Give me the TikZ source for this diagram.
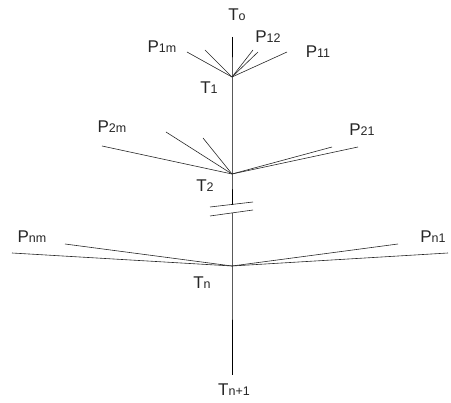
\documentclass[tikz,border=0pt]{standalone}
\usepackage{fontspec}
\setmainfont{Liberation Sans}
\usetikzlibrary{positioning}
\tikzstyle{stem} = [line width=0.8pt, black]
\tikzstyle{branch} = [line width=0.6pt, black!85]
\tikzstyle{lbl} = [inner sep=0pt, font=\fontsize{17}{17}\selectfont, text=black!85]
\newcommand{\sub}[1]{{\fontsize{12.5}{12.5}\selectfont #1}}

\begin{document}
\begin{tikzpicture}[x=1pt, y=-1pt]
    \useasboundingbox (0,0) rectangle (451,403);

    % junctions on the stem
    \coordinate (top) at (232,37);
    \coordinate (t1) at (232,77);
    \coordinate (t2) at (232,174);
    \coordinate (cut1) at (232,205);
    \coordinate (cut2) at (232,213);
    \coordinate (tn) at (232,266);
    \coordinate (bot) at (232,375);

    % free ends of the branches
    \coordinate (e1m) at (187,52);
    \coordinate (e1b) at (205,50);
    \coordinate (e12) at (253,50);
    \coordinate (e1c) at (258,52);
    \coordinate (e11) at (287,52);
    \coordinate (e2m) at (102,146);
    \coordinate (e2b) at (166,132);
    \coordinate (e2c) at (203,138);
    \coordinate (e2d) at (332,147);
    \coordinate (e21) at (358,147);
    \coordinate (enm) at (12,253);
    \coordinate (enb) at (65,244);
    \coordinate (enc) at (398,244);
    \coordinate (en1) at (448,253);

    % break marks
    \coordinate (s1a) at (210,207);
    \coordinate (s1b) at (253,202);
    \coordinate (s2a) at (210,216);
    \coordinate (s2b) at (253,210);

    % labels
    \node (T0) [lbl] at (237,15) {T\sub{o}};
    \node (T1) [lbl] at (209,88) {T\sub{1}};
    \node (T2) [lbl] at (205,186) {T\sub{2}};
    \node (Tn) [lbl] at (202,283) {T\sub{n}};
    \node (Tn1) [lbl] at (234,390) {T\sub{n+1}};
    \node (P1m) [lbl] at (162,47) {P\sub{1m}};
    \node (P12) [lbl] at (268,37) {P\sub{12}};
    \node (P11) [lbl] at (318,52) {P\sub{11}};
    \node (P2m) [lbl] at (112,127) {P\sub{2m}};
    \node (P21) [lbl] at (362,130) {P\sub{21}};
    \node (Pnm) [lbl] at (32,237) {P\sub{nm}};
    \node (Pn1) [lbl] at (433,237) {P\sub{n1}};

    % stem
    \draw [stem] (top) -- (t1) -- (t2) -- (cut1);
    \draw [stem] (cut2) -- (tn) -- (bot);
    \draw [branch] (s1a) -- (s1b);
    \draw [branch] (s2a) -- (s2b);

    % branches
    \foreach \e in {e1m, e1b, e12, e1c, e11}
        \draw [branch] (t1) -- (\e);
    \foreach \e in {e2m, e2b, e2c, e2d, e21}
        \draw [branch] (t2) -- (\e);
    \foreach \e in {enm, enb, enc, en1}
        \draw [branch] (tn) -- (\e);
\end{tikzpicture}
\end{document}
